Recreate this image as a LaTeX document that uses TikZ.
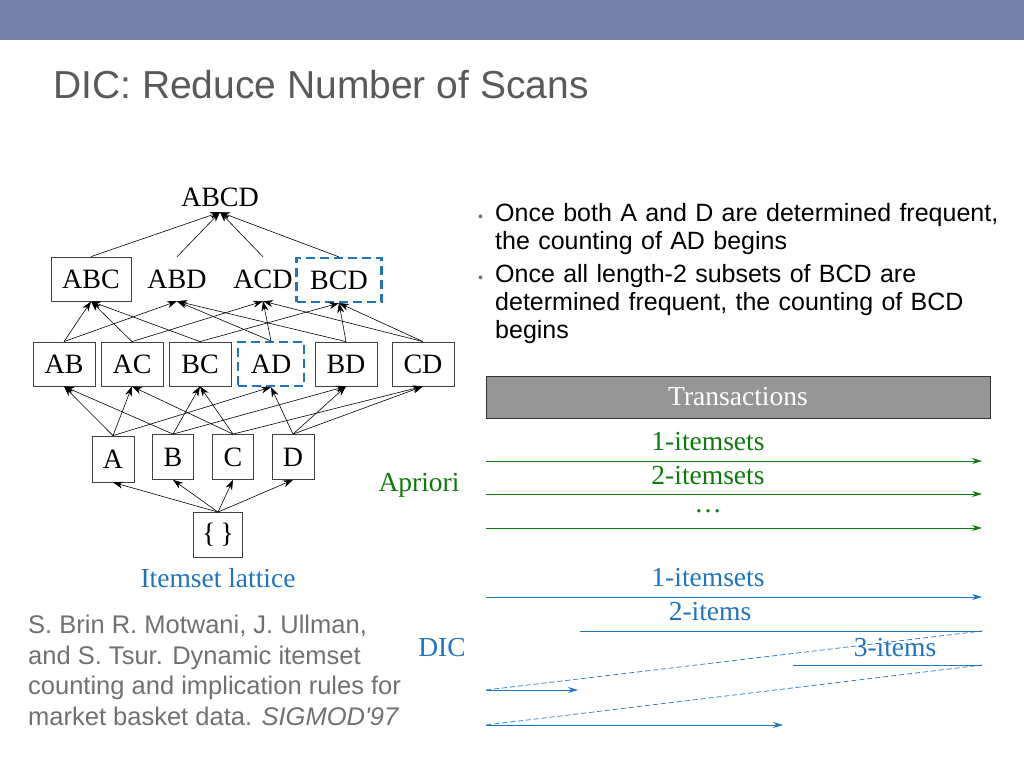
\documentclass[tikz,border=0pt]{standalone}
\usepackage{fontspec}
\setmainfont{Liberation Serif}
\newfontfamily\sansf{Liberation Sans}
\usetikzlibrary{arrows.meta}
\definecolor{barc}{HTML}{7480A8}
\definecolor{titc}{HTML}{595959}
\definecolor{grn}{HTML}{0E7A0E}
\definecolor{blu}{HTML}{1F74C0}
\definecolor{cite}{HTML}{707070}
\definecolor{trans}{HTML}{969696}
\begin{document}
\begin{tikzpicture}[x=1pt,y=-1pt,
  lat/.style={font=\fontsize{28}{30}\selectfont, inner sep=0pt, minimum height=44pt},
  bx/.style={lat, draw=black!75, line width=0.8pt},
  dbx/.style={lat, draw=blu, line width=2.2pt, dash pattern=on 9pt off 5pt},
  ed/.style={-{Stealth[length=10pt,width=7pt]}, line width=0.6pt},
  lbl/.style={font=\fontsize{27.5}{30}\selectfont, inner sep=0pt},
  ga/.style={grn, line width=0.8pt, -{Stealth[length=10pt,width=6pt]}},
  ba/.style={blu, line width=0.8pt, -{Stealth[length=10pt,width=6pt]}},
  bl/.style={blu, line width=0.8pt},
  bd/.style={blu, line width=0.7pt, dash pattern=on 5pt off 3pt}]
\useasboundingbox (0,0) rectangle (1024,768);
\fill[barc] (0,0) rectangle (1024,40);
\node[anchor=west, text=titc, font=\sansf\fontsize{39}{42}\selectfont, inner sep=0pt] (title) at (53,85) {DIC: Reduce Number of Scans};
% lattice
\node[lat, minimum height=30pt] (ABCD) at (220,197) {ABCD};
\node[bx, minimum width=80pt] (ABC) at (91,279) {ABC};
\node[lat, minimum width=70pt] (ABD) at (177,279) {ABD};
\node[lat, minimum width=70pt] (ACD) at (263,279) {ACD};
\node[dbx, minimum width=85pt] (BCD) at (339,280) {BCD};
\node[bx, minimum width=62pt] (AB) at (64,364) {AB};
\node[bx, minimum width=62pt] (AC) at (132,364) {AC};
\node[bx, minimum width=62pt] (BC) at (200,364) {BC};
\node[dbx, minimum width=66pt] (AD) at (271,364) {AD};
\node[bx, minimum width=62pt] (BD) at (346,364) {BD};
\node[bx, minimum width=62pt] (CD) at (423,364) {CD};
\node[bx, minimum width=42pt, minimum height=46pt] (A) at (113,459) {A};
\node[bx, minimum width=41pt, minimum height=45pt] (B) at (173,457) {B};
\node[bx, minimum width=41pt, minimum height=45pt] (C) at (233,457) {C};
\node[bx, minimum width=42pt, minimum height=45pt] (D) at (293,457) {D};
\node[bx, minimum width=49pt, minimum height=45pt] (E) at (218,535) {\{\,\}};
\foreach \n in {ABC,ABD,ACD,BCD} \draw[ed] (\n.north) -- (ABCD.south);
\draw[ed] (AB.north) -- (ABC.south); \draw[ed] (AC.north) -- (ABC.south); \draw[ed] (BC.north) -- (ABC.south);
\draw[ed] (AB.north) -- (ABD.south); \draw[ed] (AD.north) -- (ABD.south); \draw[ed] (BD.north) -- (ABD.south);
\draw[ed] (AC.north) -- (ACD.south); \draw[ed] (AD.north) -- (ACD.south); \draw[ed] (CD.north) -- (ACD.south);
\draw[ed] (BC.north) -- (BCD.south); \draw[ed] (BD.north) -- (BCD.south); \draw[ed] (CD.north) -- (BCD.south);
\draw[ed] (A.north) -- (AB.south); \draw[ed] (B.north) -- (AB.south);
\draw[ed] (A.north) -- (AC.south); \draw[ed] (C.north) -- (AC.south);
\draw[ed] (B.north) -- (BC.south); \draw[ed] (C.north) -- (BC.south);
\draw[ed] (A.north) -- (AD.south); \draw[ed] (D.north) -- (AD.south);
\draw[ed] (B.north) -- (BD.south); \draw[ed] (D.north) -- (BD.south);
\draw[ed] (C.north) -- (CD.south); \draw[ed] (D.north) -- (CD.south);
\foreach \n in {A,B,C,D} \draw[ed] (E.north) -- (\n.south);
\node[lbl, text=blu] (lattice) at (218,578) {Itemset lattice};
% bullets
\node[anchor=north west, text width=530pt, font=\sansf\fontsize{25}{28}\selectfont, inner sep=0pt, align=left] (bul) at (478,203) {%
\makebox[17pt][l]{\textcolor{cite}{\fontsize{14}{14}\selectfont\textbullet}}Once both A and D are determined frequent,\\
\hspace*{17pt}the counting of AD begins\\[5pt]
\makebox[17pt][l]{\textcolor{cite}{\fontsize{14}{14}\selectfont\textbullet}}Once all length-2 subsets of BCD are\\
\hspace*{17pt}determined frequent, the counting of BCD\\
\hspace*{17pt}begins};
% transactions
\node[draw=black!80, fill=trans, line width=1pt, minimum width=504pt, minimum height=42pt, text=white, lbl, inner sep=0pt] (tr) at (738,397) {Transactions};
% apriori
\node[lbl, text=grn] (apr) at (419,485) {Apriori};
\coordinate (g1s) at (486,461); \coordinate (g1e) at (982,461);
\coordinate (g2s) at (486,494); \coordinate (g2e) at (982,494);
\coordinate (g3s) at (486,528); \coordinate (g3e) at (982,528);
\draw[ga] (g1s) -- (g1e); \draw[ga] (g2s) -- (g2e); \draw[ga] (g3s) -- (g3e);
\node[lbl, text=grn] (gt1) at (708,442) {1-itemsets};
\node[lbl, text=grn] (gt2) at (708,476) {2-itemsets};
\node[lbl, text=grn] (gt3) at (708,511) {\dots};
% DIC
\node[lbl, text=blu] (dic) at (442,648) {DIC};
\coordinate (b1s) at (486,597); \coordinate (b1e) at (982,597);
\coordinate (b2s) at (580,631); \coordinate (b2e) at (982,631);
\coordinate (b3s) at (793,665); \coordinate (b3e) at (982,665);
\coordinate (b4s) at (486,690); \coordinate (b4e) at (578,690);
\coordinate (b5s) at (486,725); \coordinate (b5e) at (783,725);
\draw[ba] (b1s) -- (b1e);
\draw[bl] (b2s) -- (b2e);
\draw[bl] (b3s) -- (b3e);
\draw[bd] (b4s) -- (b2e);
\draw[bd] (b5s) -- (b3e);
\draw[ba] (b4s) -- (b4e);
\draw[ba] (b5s) -- (b5e);
\node[lbl, text=blu] (bt1) at (708,578) {1-itemsets};
\node[lbl, text=blu] (bt2) at (710,612) {2-items};
\node[lbl, text=blu] (bt3) at (895,648) {3-items};
% citation
\node[anchor=north west, text=cite, font=\sansf\fontsize{25.5}{30.5}\selectfont, inner sep=0pt, align=left] (cit) at (28,615) {S. Brin R. Motwani, J. Ullman,\\ and S. Tsur. Dynamic itemset\\ counting and implication rules for\\ market basket data. \textit{SIGMOD'97}};
\end{tikzpicture}
\end{document}
